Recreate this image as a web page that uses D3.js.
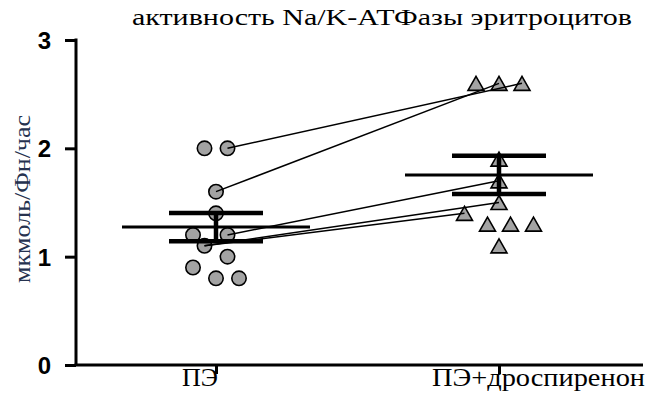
<!DOCTYPE html>
<html><head><meta charset="utf-8">
<script src="https://cdn.jsdelivr.net/npm/d3@7"></script>
<style>html,body{margin:0;padding:0;background:#fff;}svg{display:block;}</style>
</head><body>
<script>
// ---- data ----
const categories = ["ПЭ", "ПЭ+дроспиренон"];
const valuesPE = [2.0, 2.0, 1.6, 1.4, 1.2, 1.2, 1.1, 1.0, 0.9, 0.8, 0.8];
const valuesDros = [2.6, 2.6, 2.6, 1.9, 1.7, 1.5, 1.4, 1.3, 1.3, 1.3, 1.1];
// horizontal scatter slots (in marker steps) for overlapping points
const jitterPE = [-1, 1, 0, 0, -2, 1, -1, 1, -2, 0, 2];
const jitterDros = [-2, 0, 2, 0, 0, 0, -3, -1, 1, 3, 0];
// paired observations: [index in valuesPE, index in valuesDros]
const pairs = [[1, 2], [2, 1], [5, 4], [6, 5], [6, 6]];
const yTicks = [0, 1, 2, 3];
const title = "активность Na/K-АТФазы эритроцитов";
const yLabel = "мкмоль/Фн/час";

const W = 656, H = 394;
const svg = d3.select("body").append("svg").attr("width", W).attr("height", H);

const y = d3.scaleLinear().domain([0, 3]).range([365, 40]);
const x = d3.scalePoint().domain(categories).range([216, 499]);
const step = 11.5;

// axes
const yAxis = d3.axisLeft(y).tickValues(yTicks).tickSize(11).tickPadding(14).tickFormat(d3.format("d"));
const gy = svg.append("g").attr("transform", "translate(76,0)").call(yAxis);
gy.select(".domain").attr("stroke", "#000").attr("stroke-width", 3).attr("d", "M0,365V38.5");
gy.selectAll(".tick line").attr("stroke", "#000").attr("stroke-width", 3);
gy.selectAll(".tick text").attr("font-family", "Liberation Sans, Arial, sans-serif")
  .attr("font-weight", "bold").attr("font-size", 24).attr("fill", "#000").attr("dy", "0.36em");

const xAxis = d3.axisBottom(x).tickSize(9).tickFormat("");
const gx = svg.append("g").attr("transform", "translate(0,365)").call(xAxis);
gx.select(".domain").attr("stroke", "#000").attr("stroke-width", 3).attr("d", "M74.5,0H643");
gx.selectAll(".tick line").attr("stroke", "#000").attr("stroke-width", 3);

// category labels
const labelOffsets = [-34, -67];
const labelLengths = [36, 213];
svg.append("g").selectAll("text").data(categories).join("text")
  .attr("x", (d, i) => x(d) + labelOffsets[i]).attr("y", 386)
  .attr("font-family", "Liberation Serif, Times New Roman, serif").attr("font-size", 26)
  .attr("textLength", (d, i) => labelLengths[i]).attr("lengthAdjust", "spacingAndGlyphs")
  .attr("fill", "#000").text(d => d);

// title
svg.append("text").attr("x", 132).attr("y", 25)
  .attr("font-family", "Liberation Serif, Times New Roman, serif").attr("font-size", 24)
  .attr("textLength", 500).attr("lengthAdjust", "spacingAndGlyphs")
  .attr("fill", "#000").text(title);

// y label
svg.append("text").attr("transform", "translate(30,199) rotate(-90)")
  .attr("text-anchor", "middle")
  .attr("font-family", "Liberation Serif, Times New Roman, serif").attr("font-size", 23)
  .attr("textLength", 168).attr("lengthAdjust", "spacingAndGlyphs")
  .attr("fill", "#26324f").text(yLabel);

// markers
const fill = "#a3a3a3";
const px1 = i => x(categories[0]) + jitterPE[i] * step;
const px2 = i => x(categories[1]) + jitterDros[i] * step;

svg.append("g").selectAll("circle").data(valuesPE).join("circle")
  .attr("cx", (d, i) => px1(i)).attr("cy", d => y(d)).attr("r", 7.2)
  .attr("fill", fill).attr("stroke", "#000").attr("stroke-width", 1.6);

const tri = (cx, cy) => `M${cx},${cy - 7}L${cx + 8},${cy + 7}L${cx - 8},${cy + 7}Z`;
svg.append("g").selectAll("path").data(valuesDros).join("path")
  .attr("d", (d, i) => tri(px2(i), y(d)))
  .attr("fill", fill).attr("stroke", "#000").attr("stroke-width", 1.6).attr("stroke-linejoin", "miter");

// pair lines
svg.append("g").selectAll("line").data(pairs).join("line")
  .attr("x1", p => px1(p[0])).attr("y1", p => y(valuesPE[p[0]]))
  .attr("x2", p => px2(p[1])).attr("y2", p => y(valuesDros[p[1]]))
  .attr("stroke", "#000").attr("stroke-width", 1.5);

// mean ± SEM
const groups = [valuesPE, valuesDros].map((v, i) => {
  const m = d3.mean(v), sem = d3.deviation(v) / Math.sqrt(v.length);
  return { c: categories[i], m, lo: m - sem, hi: m + sem };
});
const eg = svg.append("g").attr("stroke", "#000");
groups.forEach(g => {
  const cx = x(g.c);
  eg.append("line").attr("x1", cx - 94).attr("x2", cx + 94).attr("y1", y(g.m)).attr("y2", y(g.m)).attr("stroke-width", 3);
  eg.append("line").attr("x1", cx).attr("x2", cx).attr("y1", y(g.hi)).attr("y2", y(g.lo)).attr("stroke-width", 4.5);
  [g.hi, g.lo].forEach(v => eg.append("line").attr("x1", cx - 47).attr("x2", cx + 47)
    .attr("y1", y(v)).attr("y2", y(v)).attr("stroke-width", 4.5));
});
</script>
</body></html>
